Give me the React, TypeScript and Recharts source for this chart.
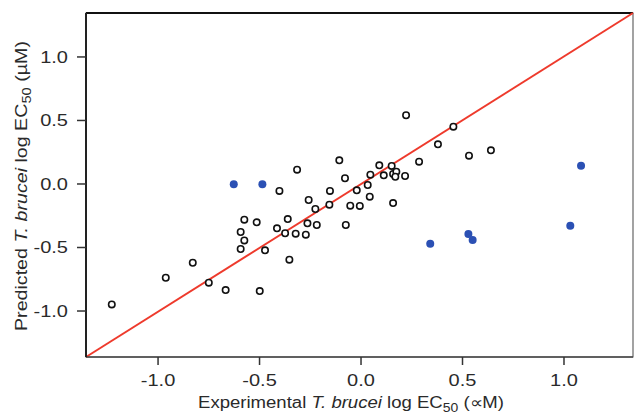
import React from 'react';
import { ScatterChart, Scatter, XAxis, YAxis, ReferenceLine, ReferenceArea } from 'recharts';

// black open circles: training compounds
const trainX = [0.222, 0.379, 0.286, -0.107, -0.315, 0.09, 0.151, 0.046, 0.112, 0.158, 0.174, 0.169, 0.217,
  -0.079, 0.033, -0.021, -0.153, -0.402, 0.043, -0.258, 0.158, -0.053, -0.006, -0.156, -0.225, -0.575, -0.514,
  -0.361, -0.264, -0.218, -0.075, -0.414, -0.374, -0.322, -0.272, -0.593, -0.575, -0.593, -0.473, -0.353,
  0.455, 0.532, 0.640, -1.228, -0.962, -0.829, -0.75, -0.667, -0.499];
const trainY = [0.541, 0.312, 0.176, 0.186, 0.113, 0.147, 0.142, 0.073, 0.068, 0.079, 0.097, 0.057, 0.063,
  0.045, -0.008, -0.05, -0.055, -0.055, -0.1, -0.126, -0.15, -0.171, -0.173, -0.163, -0.197, -0.281, -0.302,
  -0.276, -0.31, -0.323, -0.323, -0.349, -0.388, -0.391, -0.399, -0.378, -0.444, -0.512, -0.522, -0.596,
  0.451, 0.223, 0.265, -0.948, -0.738, -0.62, -0.777, -0.835, -0.843];

// blue filled circles: outliers
const outX = [-0.627, -0.486, 0.341, 1.084, 1.031, 0.529, 0.55];
const outY = [-0.003, -0.003, -0.47, 0.144, -0.328, -0.394, -0.441];

const xDomain = [-1.355, 1.34];
const yDomain = [-1.362, 1.346];
const ticks = [-1.0, -0.5, 0.0, 0.5, 1.0];

const trainData = trainX.map((x, i) => ({ x, y: trainY[i] }));
const outData = outX.map((x, i) => ({ x, y: outY[i] }));

const font = '"Liberation Sans", Arial, sans-serif';
const textColor = '#2a2a2a';
// the original figure is stretched sideways a bit
const stretch = 'scale(1.25,1)';

const OpenDot = (props: any) => (
  <circle cx={props.cx} cy={props.cy} r={3.2} fill="#fff" stroke="#111" strokeWidth={1.6} />
);
const BlueDot = (props: any) => (
  <circle cx={props.cx} cy={props.cy} r={4} fill="#2b50b4" />
);

const XTick = (props: any) => (
  <g transform={`translate(${props.x},${props.y})`}>
    <text transform={stretch} dy="0.71em" textAnchor="middle" fontSize={16} fontFamily={font} fill={textColor}>
      {props.payload.value.toFixed(1)}
    </text>
  </g>
);

const YTick = (props: any) => (
  <g transform={`translate(${props.x},${props.y})`}>
    <text transform={stretch} dy="0.36em" textAnchor="end" fontSize={16} fontFamily={font} fill={textColor}>
      {props.payload.value.toFixed(1)}
    </text>
  </g>
);

const XTitle = () => (
  <text x={351} y={408} textAnchor="middle" fontSize={16} fontFamily={font} fill={textColor}
    textLength={306} lengthAdjust="spacingAndGlyphs">
    Experimental <tspan fontStyle="italic">T. brucei</tspan> log EC<tspan fontSize={12} dy={4}>50</tspan>
    <tspan dy={-4}> (∝M)</tspan>
  </text>
);

const YTitle = () => (
  <text x={0} y={0} transform="translate(27,186) rotate(-90)" textAnchor="middle" fontSize={16} fontFamily={font}
    fill={textColor} textLength={290} lengthAdjust="spacingAndGlyphs">
    Predicted <tspan fontStyle="italic">T. brucei</tspan> log EC<tspan fontSize={12} dy={4}>50</tspan>
    <tspan dy={-4}> (µM)</tspan>
  </text>
);

const App: React.FC = () => {
  return (
    <div style={{ position: 'absolute', left: 0, top: 0, background: '#fff' }}>
      <ScatterChart width={635} height={414} margin={{ top: 13, right: 2, bottom: 27, left: 36 }}>
        <XAxis
          type="number"
          dataKey="x"
          domain={xDomain}
          ticks={ticks}
          allowDataOverflow
          tickSize={8}
          tickMargin={10}
          height={30}
          axisLine={{ stroke: '#444', strokeWidth: 1.5 }}
          tickLine={{ stroke: '#333', strokeWidth: 1.5 }}
          tick={<XTick />}
          label={{ content: <XTitle /> }}
        />
        <YAxis
          type="number"
          dataKey="y"
          domain={yDomain}
          ticks={ticks}
          allowDataOverflow
          tickSize={9}
          tickMargin={9}
          width={50}
          axisLine={{ stroke: '#222', strokeWidth: 2 }}
          tickLine={{ stroke: '#333', strokeWidth: 1.5 }}
          tick={<YTick />}
          label={{ content: <YTitle /> }}
        />
        <ReferenceArea
          x1={xDomain[0]}
          x2={xDomain[1]}
          y1={yDomain[0]}
          y2={yDomain[1]}
          fill="none"
          stroke="#666"
          strokeWidth={1.2}
        />
        <ReferenceLine y={yDomain[1]} stroke="#111" strokeWidth={2} />
        <ReferenceLine
          segment={[{ x: xDomain[0], y: yDomain[0] }, { x: xDomain[1], y: yDomain[1] }]}
          stroke="#ee3a2c"
          strokeWidth={2}
        />
        <Scatter data={trainData} shape={<OpenDot />} isAnimationActive={false} />
        <Scatter data={outData} shape={<BlueDot />} isAnimationActive={false} />
      </ScatterChart>
    </div>
  );
};

export default App;
